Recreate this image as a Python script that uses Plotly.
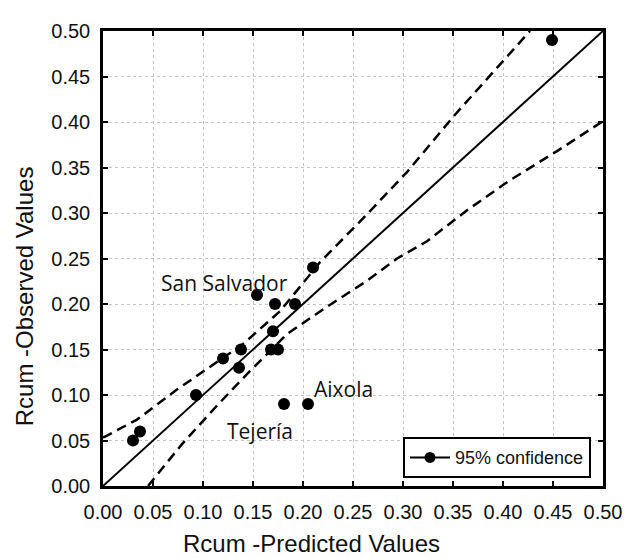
import plotly.graph_objects as go

# Observed vs predicted points
pred = [0.030, 0.037, 0.093, 0.120, 0.136, 0.138, 0.154, 0.168, 0.170, 0.172,
        0.175, 0.181, 0.192, 0.205, 0.210, 0.449]
obs = [0.050, 0.060, 0.100, 0.140, 0.130, 0.150, 0.210, 0.150, 0.170, 0.200,
       0.150, 0.090, 0.200, 0.090, 0.240, 0.490]

# Fitted line
fit_x = [0.0, 0.5]
fit_y = [0.0, 0.5]

# 95% confidence bands
upper_x = [0.000, 0.034, 0.074, 0.104, 0.140, 0.177, 0.217, 0.260, 0.304, 0.352, 0.427]
upper_y = [0.053, 0.073, 0.106, 0.129, 0.156, 0.192, 0.246, 0.294, 0.345, 0.408, 0.500]
lower_x = [0.045, 0.079, 0.112, 0.144, 0.184, 0.224, 0.262, 0.294, 0.324, 0.364, 0.407, 0.454, 0.500]
lower_y = [0.000, 0.046, 0.086, 0.123, 0.167, 0.197, 0.224, 0.250, 0.269, 0.303, 0.336, 0.368, 0.401]

tick_vals = [0.0, 0.05, 0.10, 0.15, 0.20, 0.25, 0.30, 0.35, 0.40, 0.45, 0.50]
tick_text = ["0.00", "0.05", "0.10", "0.15", "0.20", "0.25", "0.30", "0.35", "0.40", "0.45", "0.50"]

labels = ["San Salvador", "Aixola", "Tejería"]
label_x = [0.121, 0.240, 0.1565]
label_y = [0.2235, 0.1066, 0.0605]

fig = go.Figure()
fig.add_trace(go.Scatter(x=upper_x, y=upper_y, mode="lines",
                         line=dict(color="black", width=2.5, dash="10px,6px"),
                         showlegend=False, hoverinfo="skip"))
fig.add_trace(go.Scatter(x=lower_x, y=lower_y, mode="lines",
                         line=dict(color="black", width=2.5, dash="10px,6px"),
                         showlegend=False, hoverinfo="skip"))
fig.add_trace(go.Scatter(x=fit_x, y=fit_y, mode="lines",
                         line=dict(color="black", width=2),
                         showlegend=False, hoverinfo="skip"))
fig.add_trace(go.Scatter(x=pred, y=obs, mode="markers",
                         marker=dict(color="black", size=12),
                         showlegend=False))
fig.add_trace(go.Scatter(x=[None], y=[None], mode="lines+markers",
                         line=dict(color="black", width=2),
                         marker=dict(color="black", size=11),
                         name="95% confidence"))

axis_common = dict(
    range=[0, 0.5], tickvals=tick_vals, ticktext=tick_text,
    showgrid=True, gridcolor="#c4c4c4", griddash="dot", gridwidth=1,
    showline=True, linecolor="black", linewidth=2.5, mirror="allticks",
    ticks="inside", ticklen=5, tickwidth=2, tickcolor="black",
    tickfont=dict(family="Liberation Sans", size=20, color="#111"),
    zeroline=False, fixedrange=True,
)

fig.update_xaxes(**axis_common, ticklabelstandoff=6)
fig.update_yaxes(**axis_common, ticklabelstandoff=6)

for t, xx, yy in zip(labels, label_x, label_y):
    fig.add_annotation(x=xx, y=yy, text=t, showarrow=False,
                       font=dict(family="Open Sans", size=21, color="#111"))

fig.add_annotation(xref="paper", yref="paper", x=0.416, y=-0.127,
                   text="Rcum -Predicted Values", showarrow=False,
                   xanchor="center", yanchor="middle",
                   font=dict(family="Liberation Sans", size=24, color="#111"))
fig.add_annotation(xref="paper", yref="paper", x=-0.158, y=0.417,
                   text="Rcum -Observed Values", showarrow=False, textangle=-90,
                   xanchor="center", yanchor="middle",
                   font=dict(family="Liberation Sans", size=24, color="#111"))

# page body has an 8px margin, so the figure is sized to fit the window
fig.update_layout(
    width=632, height=551,
    margin=dict(l=95, r=37, t=15, b=73),
    paper_bgcolor="white", plot_bgcolor="white",
    legend=dict(x=0.6, y=0.017, xanchor="left", yanchor="bottom",
                bordercolor="black", borderwidth=2, bgcolor="white",
                font=dict(family="Liberation Sans", size=18, color="#111"),
                itemwidth=40, tracegroupgap=0),
)

fig.write_html("out.html")
